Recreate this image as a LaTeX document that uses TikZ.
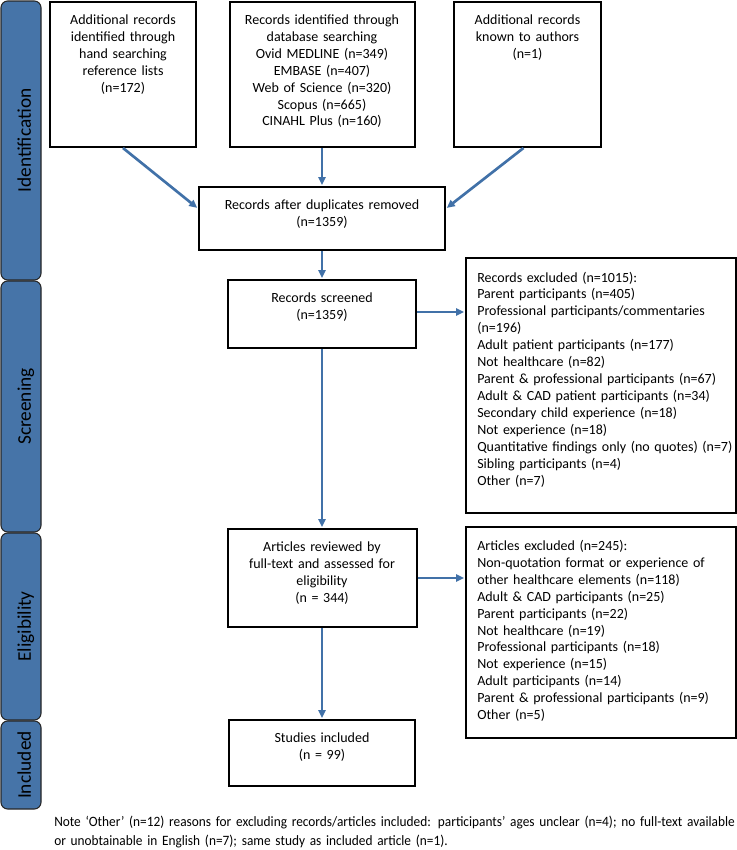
\documentclass[tikz,border=0pt]{standalone}
\usepackage{fontspec}
\setmainfont{Carlito}
\newfontfamily\notefont[FakeStretch=0.935]{Carlito}
\usetikzlibrary{arrows.meta}

\definecolor{barblue}{RGB}{70,116,168}
\definecolor{arrowblue}{RGB}{65,113,168}

\begin{document}
\begin{tikzpicture}[x=0.75pt, y=-0.75pt,
    box/.style={draw, line width=1.5pt, inner sep=0pt},
    boxtext/.style={anchor=base, inner sep=0pt, align=center, font=\fontsize{10.5}{12.7}\selectfont},
    listtext/.style={anchor=base west, inner sep=0pt, align=left, text width=208pt, font=\fontsize{10.5}{12.7}\selectfont},
    phase/.style={draw=black!85, line width=0.8pt, fill=barblue, rounded corners=5pt, rotate=90,
        minimum height=30pt, text height=15pt, text depth=0pt, inner sep=0pt, font=\fontsize{14.5}{17}\selectfont},
    arr/.style={draw=arrowblue, line width=2pt, shorten >=0.75pt, -{Triangle[length=6pt, width=5.5pt]}}]

    \useasboundingbox (0,0) rectangle (737,850);

    % phase bars on the left
    \node[phase, minimum width=209.25pt] (ident) at (21,140.5) {Identification};
    \node[phase, minimum width=188.25pt] (screen) at (21,406.5) {Screening};
    \node[phase, minimum width=140.25pt] (elig) at (21,626.5) {Eligibility};
    \node[phase, minimum width=66pt] (incl) at (21,765) {Included};

    % identification
    \node[box, minimum width=109.5pt, minimum height=108.75pt] (hand) at (123,74.5) {};
    \node[boxtext, text width=105pt] (hand-t) at ([yshift=-17.5pt]hand.north)
        {Additional records\\identified through\\hand searching\\reference lists\\(n=172)};

    \node[box, minimum width=138.75pt, minimum height=108.75pt] (db) at (322,74.5) {};
    \node[boxtext, text width=134pt] (db-t) at ([yshift=-17.5pt]db.north)
        {Records identified through\\database searching\\Ovid MEDLINE (n=349)\\EMBASE (n=407)\\Web of Science (n=320)\\Scopus (n=665)\\CINAHL Plus (n=160)};

    \node[box, minimum width=110.25pt, minimum height=108.75pt] (authors) at (527.5,74.5) {};
    \node[boxtext, text width=105pt] (authors-t) at ([yshift=-17.5pt]authors.north)
        {Additional records\\known to authors\\(n=1)};

    \node[box, minimum width=184.5pt, minimum height=47.25pt] (dup) at (322,218.5) {};
    \node[boxtext, text width=180pt] (dup-t) at ([yshift=-17.5pt]dup.north)
        {Records after duplicates removed\\(n=1359)};

    % screening
    \node[box, minimum width=141pt, minimum height=51pt] (screened) at (322,314) {};
    \node[boxtext, text width=136pt] (screened-t) at ([yshift=-17.5pt]screened.north)
        {Records screened\\(n=1359)};

    \node[box, minimum width=202.5pt, minimum height=191.25pt] (recexcl) at (601,385.5) {};
    \node[listtext] (recexcl-t) at ([xshift=9pt, yshift=-18.75pt]recexcl.north west)
        {Records excluded (n=1015):\\Parent participants (n=405)\\Professional participants/commentaries\\(n=196)\\Adult patient participants (n=177)\\Not healthcare (n=82)\\Parent \& professional participants (n=67)\\Adult \& CAD patient participants (n=34)\\Secondary child experience (n=18)\\Not experience (n=18)\\Quantitative findings only (no quotes) (n=7)\\Sibling participants (n=4)\\Other (n=7)};

    % eligibility
    \node[box, minimum width=141.75pt, minimum height=73.5pt] (articles) at (322,578) {};
    \node[boxtext, text width=137pt] (articles-t) at ([yshift=-17.5pt]articles.north)
        {Articles reviewed by\\full-text and assessed for\\eligibility\\(n = 344)};

    \node[box, minimum width=202.5pt, minimum height=158.25pt] (artexcl) at (601,632.5) {};
    \node[listtext] (artexcl-t) at ([xshift=9pt, yshift=-18.25pt]artexcl.north west)
        {Articles excluded (n=245):\\Non-quotation format or experience of\\other healthcare elements (n=118)\\Adult \& CAD participants (n=25)\\Parent participants (n=22)\\Not healthcare (n=19)\\Professional participants (n=18)\\Not experience (n=15)\\Adult participants (n=14)\\Parent \& professional participants (n=9)\\Other (n=5)};

    % included
    \node[box, minimum width=139.5pt, minimum height=49.5pt] (included) at (322,753) {};
    \node[boxtext, text width=135pt] (included-t) at ([yshift=-17.5pt]included.north)
        {Studies included\\(n = 99)};

    % arrows
    \draw[arr] (hand.south) -- ([yshift=7.5pt]dup.west);
    \draw[arr] (db.south) -- (dup.north);
    \draw[arr] ([xshift=-3pt]authors.south) -- ([yshift=7.5pt]dup.east);
    \draw[arr] (dup.south) -- (screened.north);
    \draw[arr] ([yshift=1.5pt]screened.east) -- ([yshift=1.5pt]screened.east -| recexcl.west);
    \draw[arr] (screened.south) -- (articles.north);
    \draw[arr] (articles.east) -- (articles.east -| artexcl.west);
    \draw[arr] (articles.south) -- (included.north);

    % note under the chart
    \node[anchor=base west, inner sep=0pt, align=left, text width=530pt, font=\notefont\fontsize{10.7}{14.25}\selectfont] (note) at (54,826)
        {Note ‘Other’ (n=12) reasons for excluding records/articles included: participants’ ages unclear (n=4); no full-text available\\or unobtainable in English (n=7); same study as included article (n=1).};
\end{tikzpicture}
\end{document}
